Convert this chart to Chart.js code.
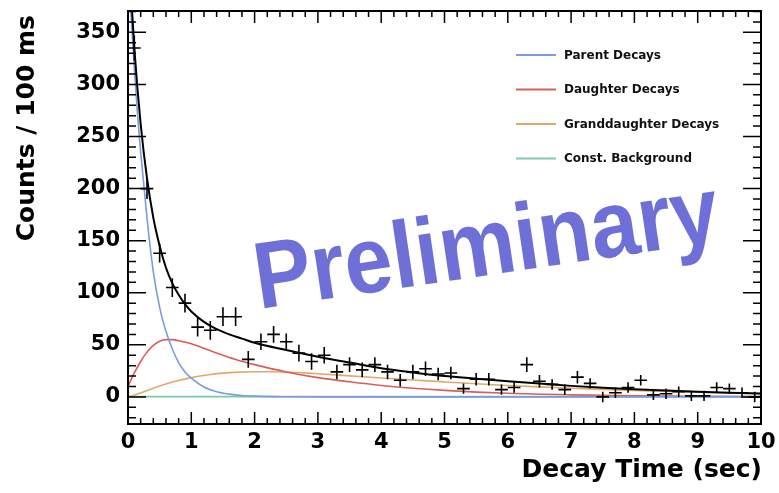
<!DOCTYPE html>
<html>
<head>
<meta charset="utf-8">
<script src="https://cdn.jsdelivr.net/npm/chart.js@4.4.0/dist/chart.umd.min.js"></script>
<style>
  html, body { margin: 0; padding: 0; background: #fff; }
  #wrap { width: 779px; height: 493px; }
</style>
</head>
<body>
<div id="wrap"><canvas id="mycanvas" width="779" height="493"></canvas></div>
<script>
// measured counts, 200 ms bins (plotted per 100 ms)
var binCenters = [0.1, 0.3, 0.5, 0.7, 0.9, 1.1, 1.3, 1.5, 1.7, 1.9,
                  2.1, 2.3, 2.5, 2.7, 2.9, 3.1, 3.3, 3.5, 3.7, 3.9,
                  4.1, 4.3, 4.5, 4.7, 4.9, 5.1, 5.3, 5.5, 5.7, 5.9,
                  6.1, 6.3, 6.5, 6.7, 6.9, 7.1, 7.3, 7.5, 7.7, 7.9,
                  8.1, 8.3, 8.5, 8.7, 8.9, 9.1, 9.3, 9.5, 9.7, 9.9];
var counts = [335, 200, 138, 105, 90, 67, 64, 77, 77, 36,
              53, 60, 53, 42, 34, 40, 24, 31, 26, 31,
              24, 16, 24, 27, 22, 23, 8, 17, 17, 7,
              9, 31, 15, 12, 7, 19, 13, 0, 4, 9,
              16, 2, 3, 5, 1, 1, 9, 8, 4, 0];
var countErrors = [12, 10, 9, 9, 9, 9, 9, 9, 9, 8,
                   8, 8, 8, 8, 8, 8, 7, 7, 7, 7,
                   7, 6, 7, 7, 6, 6, 5, 6, 6, 5,
                   5, 7, 6, 5, 5, 6, 5, 5, 5, 5,
                   5, 5, 5, 5, 5, 5, 5, 5, 5, 5];

// fit components
var totalT   = [0, 0.05, 0.1, 0.2, 0.3, 0.4, 0.5, 0.6, 0.7, 0.8, 0.9, 1.0, 1.2, 1.4, 1.6, 1.8, 2.0, 2.5, 3.0, 3.5, 4.0, 4.5, 5.0, 5.5, 6.0, 6.5, 7.0, 7.5, 8.0, 8.5, 9.0, 9.5, 10];
var totalFit = [440, 385, 335, 262, 210, 172, 145, 124, 109, 98, 89, 82, 72, 65, 60, 56, 52, 45, 38.5, 33, 27.5, 23.5, 20, 17.5, 15, 12.8, 10.6, 8.9, 7.4, 6.1, 5, 4, 3.2];

var parentT   = [0, 0.05, 0.1, 0.15, 0.2, 0.3, 0.4, 0.5, 0.6, 0.7, 0.8, 0.9, 1.0, 1.2, 1.4, 1.6, 1.8, 2.0, 2.5, 3.0, 10];
var parentFit = [425, 365, 315, 272, 235, 172, 120, 86, 63, 46, 33, 24, 18, 9.5, 5, 2.7, 1.4, 0.8, 0.2, 0, 0];

var daughterT   = [0, 0.1, 0.2, 0.3, 0.4, 0.5, 0.6, 0.7, 0.8, 1.0, 1.25, 1.5, 1.75, 2.0, 2.5, 3.0, 3.5, 4.0, 4.5, 5.0, 6.0, 7.0, 8.0, 9.0, 10];
var daughterFit = [10, 23, 34, 43, 49.5, 53.5, 55, 55, 54, 51, 45.5, 40, 35, 31, 24, 18.5, 14.5, 11, 8.3, 6.3, 3.5, 2, 1.1, 0.6, 0.4];

var granddaughterT   = [0, 0.25, 0.5, 0.75, 1.0, 1.25, 1.5, 1.75, 2.0, 2.25, 2.5, 3.0, 3.5, 4.0, 4.5, 5.0, 5.5, 6.0, 6.5, 7.0, 7.5, 8.0, 8.5, 9.0, 9.5, 10];
var granddaughterFit = [0, 5, 10.5, 15, 18.5, 21, 22.8, 23.8, 24.2, 24.2, 23.8, 22.2, 20.2, 18.2, 16.3, 14.4, 12.6, 11, 9.6, 8.3, 7.2, 6.2, 5.3, 4.5, 3.7, 3.0];

var backgroundT   = [0, 10];
var backgroundFit = [0.3, 0.3];

var xTicks = [0, 1, 2, 3, 4, 5, 6, 7, 8, 9, 10];
var yTicks = [0, 50, 100, 150, 200, 250, 300, 350];

function pts(xs, ys) {
  return xs.map(function(x, i) { return {x: x, y: ys[i]}; });
}

function curve(label, color, xs, ys, width, legend) {
  return {
    label: label,
    data: pts(xs, ys),
    showLine: true,
    borderColor: color,
    backgroundColor: color,
    borderWidth: width,
    pointRadius: 0,
    pointHoverRadius: 0,
    cubicInterpolationMode: 'monotone',
    fill: false,
    inLegend: legend
  };
}

var tickFont = {family: 'DejaVu Sans', weight: 'bold', size: 21};

// error crosses for the data points
var errorBars = {
  id: 'errorBars',
  afterDatasetsDraw: function(chart) {
    var ctx = chart.ctx, xs = chart.scales.x, ys = chart.scales.y, ca = chart.chartArea;
    ctx.save();
    ctx.beginPath();
    ctx.rect(ca.left, ca.top, ca.right - ca.left, ca.bottom - ca.top);
    ctx.clip();
    ctx.strokeStyle = '#000';
    ctx.lineWidth = 1.6;
    for (var i = 0; i < binCenters.length; i++) {
      var px = xs.getPixelForValue(binCenters[i]);
      var py = ys.getPixelForValue(counts[i]);
      ctx.beginPath();
      ctx.moveTo(xs.getPixelForValue(binCenters[i] - 0.1), py);
      ctx.lineTo(xs.getPixelForValue(binCenters[i] + 0.1), py);
      ctx.moveTo(px, ys.getPixelForValue(counts[i] - countErrors[i]));
      ctx.lineTo(px, ys.getPixelForValue(counts[i] + countErrors[i]));
      ctx.stroke();
    }
    ctx.restore();
  }
};

// frame, inward ticks, legend, titles, watermark
var decorations = {
  id: 'decorations',
  afterDatasetsDraw: function(chart) {
    var ctx = chart.ctx;
    ctx.save();
    ctx.translate(259, 309);
    ctx.rotate(-8.4 * Math.PI / 180);
    ctx.scale(1, 1.1);
    ctx.font = 'bold 86px "Liberation Sans", Arial, sans-serif';
    ctx.fillStyle = '#6e70d8';
    ctx.textAlign = 'left';
    ctx.textBaseline = 'alphabetic';
    ctx.fillText('Preliminary', 0, 0);
    ctx.restore();
  },
  afterDraw: function(chart) {
    var ctx = chart.ctx, ca = chart.chartArea, xs = chart.scales.x, ys = chart.scales.y;
    ctx.save();
    ctx.strokeStyle = '#000';
    ctx.lineWidth = 1.5;
    ctx.beginPath();
    for (var i = 0; i <= 50; i++) {
      var v = i * 0.2;
      var px = xs.getPixelForValue(v);
      var len = (i % 5 === 0) ? 12 : 6;
      ctx.moveTo(px, ca.bottom); ctx.lineTo(px, ca.bottom - len);
      ctx.moveTo(px, ca.top); ctx.lineTo(px, ca.top + len);
    }
    for (var j = -2; j <= 37; j++) {
      var yv = j * 10;
      if (yv < ys.min || yv > ys.max) continue;
      var py = ys.getPixelForValue(yv);
      var l2 = (j % 5 === 0) ? 18 : 8;
      ctx.moveTo(ca.left, py); ctx.lineTo(ca.left + l2, py);
      ctx.moveTo(ca.right, py); ctx.lineTo(ca.right - l2, py);
    }
    ctx.stroke();
    ctx.lineWidth = 2;
    ctx.strokeRect(ca.left, ca.top, ca.right - ca.left, ca.bottom - ca.top);

    // legend
    var row = 0;
    ctx.font = 'bold 12px "DejaVu Sans", sans-serif';
    ctx.textBaseline = 'middle';
    ctx.textAlign = 'left';
    chart.data.datasets.forEach(function(ds) {
      if (!ds.inLegend) return;
      var y = 55 + row * 34.5;
      ctx.strokeStyle = ds.borderColor;
      ctx.lineWidth = 2;
      ctx.beginPath();
      ctx.moveTo(516, y); ctx.lineTo(556, y);
      ctx.stroke();
      ctx.fillStyle = '#111';
      ctx.fillText(ds.label, 564, y + 0.5);
      row++;
    });

    // axis titles
    ctx.fillStyle = '#000';
    ctx.font = 'bold 25px "DejaVu Sans", sans-serif';
    ctx.textAlign = 'right';
    ctx.textBaseline = 'alphabetic';
    ctx.fillText('Decay Time (sec)', 762, 477);
    ctx.translate(34, 15);
    ctx.rotate(-Math.PI / 2);
    ctx.fillText('Counts / 100 ms', 0, 0);
    ctx.restore();
  }
};

var chartdata = {
  datasets: [
    {
      label: 'Data',
      data: pts(binCenters, counts),
      pointRadius: 0,
      pointHoverRadius: 0,
      showLine: false,
      inLegend: false
    },
    curve('Total Fit', '#000000', totalT, totalFit, 2, false),
    curve('Parent Decays', '#7a9bdf', parentT, parentFit, 1.6, true),
    curve('Daughter Decays', '#dc5c5c', daughterT, daughterFit, 1.6, true),
    curve('Granddaughter Decays', '#e0aa6c', granddaughterT, granddaughterFit, 1.6, true),
    curve('Const. Background', '#7ccaa6', backgroundT, backgroundFit, 1.6, true)
  ]
};

var ctx = document.getElementById('mycanvas');

var decayChart = new Chart(ctx, {
  type: 'scatter',
  data: chartdata,
  options: {
    responsive: false,
    animation: false,
    devicePixelRatio: 1,
    layout: { padding: { top: 11, right: 18, left: 0, bottom: 0 } },
    plugins: { legend: { display: false }, tooltip: { enabled: false } },
    scales: {
      x: {
        type: 'linear',
        min: 0,
        max: 10,
        grid: { display: false, drawTicks: false },
        border: { display: false },
        afterBuildTicks: function(s) { s.ticks = xTicks.map(function(v) { return {value: v}; }); },
        afterFit: function(s) { s.height = 69; s.paddingLeft = 0; s.paddingRight = 0; },
        ticks: { font: tickFont, color: '#000', padding: 6, maxRotation: 0 }
      },
      y: {
        type: 'linear',
        min: -26,
        max: 370.5,
        grid: { display: false, drawTicks: false },
        border: { display: false },
        afterBuildTicks: function(s) { s.ticks = yTicks.map(function(v) { return {value: v}; }); },
        afterFit: function(s) { s.width = 128; s.paddingTop = 0; s.paddingBottom = 0; },
        ticks: { font: tickFont, color: '#000', padding: 8 }
      }
    }
  },
  plugins: [errorBars, decorations]
});
</script>
</body>
</html>
